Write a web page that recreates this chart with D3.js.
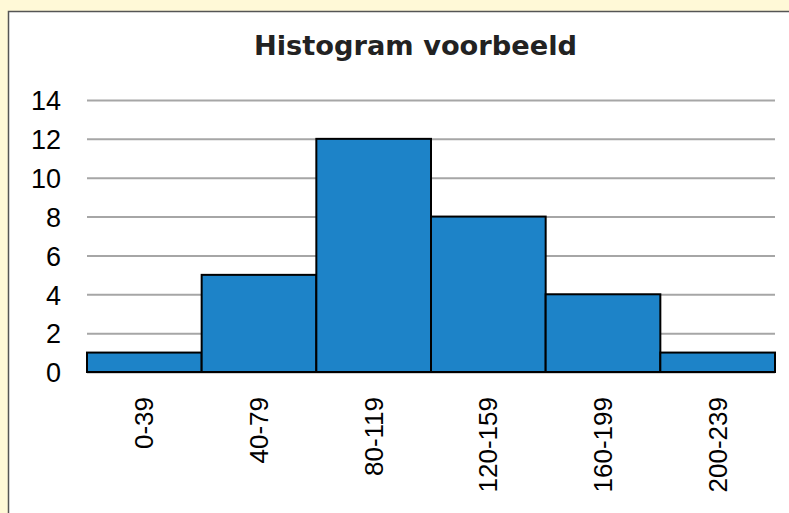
<!DOCTYPE html>
<html>
<head>
<meta charset="utf-8">
<script src="https://cdn.jsdelivr.net/npm/d3@7"></script>
<style>
  html, body { margin: 0; padding: 0; background: #FFF9D7; }
  svg { display: block; }
</style>
</head>
<body>
<svg id="chart" width="789" height="513"></svg>
<script>
// Class intervals and their counts
const categories = ["0-39", "40-79", "80-119", "120-159", "160-199", "200-239"];
const counts = [1, 5, 12, 8, 4, 1];
const yTicks = [0, 2, 4, 6, 8, 10, 12, 14];
const title = "Histogram voorbeeld";

const svg = d3.select("#chart");
const W = 789, H = 513;
const labelFont = "'Liberation Sans', Arial, sans-serif";

// Page background and white chart panel with its frame
svg.append("rect").attr("width", W).attr("height", H).attr("fill", "#FFF9D7");
svg.append("rect")
  .attr("x", 8.5).attr("y", 11.5)
  .attr("width", 840).attr("height", 540)
  .attr("fill", "#ffffff")
  .attr("stroke", "#555555")
  .attr("stroke-width", 1.5);

const plot = { left: 87, right: 775, top: 100, bottom: 372 };

const x = d3.scaleBand()
  .domain(categories)
  .range([plot.left, plot.right])
  .paddingInner(0).paddingOuter(0);

const y = d3.scaleLinear()
  .domain([0, 14])
  .range([plot.bottom, plot.top]);

// Horizontal gridlines and value labels
const yAxis = d3.axisLeft(y)
  .tickValues(yTicks)
  .tickSize(-(plot.right - plot.left))
  .tickPadding(26)
  .tickFormat(d3.format("d"));

const gy = svg.append("g")
  .attr("transform", `translate(${plot.left},0)`)
  .call(yAxis);
gy.select(".domain").remove();
gy.selectAll(".tick line")
  .attr("stroke", "#A6A6A6")
  .attr("stroke-width", 2);
gy.selectAll(".tick text")
  .attr("fill", "#000")
  .attr("font-family", labelFont)
  .attr("font-size", 27)
  .attr("dy", "0.36em");

// Bars
svg.append("g")
  .selectAll("rect")
  .data(categories.map((c, i) => ({ c, v: counts[i] })))
  .join("rect")
  .attr("x", d => x(d.c))
  .attr("y", d => y(d.v))
  .attr("width", x.bandwidth())
  .attr("height", d => y(0) - y(d.v))
  .attr("fill", "#1D83C8")
  .attr("stroke", "#000000")
  .attr("stroke-width", 2);

// Rotated category labels
const xAxis = d3.axisBottom(x).tickSize(0).tickPadding(0);
const gx = svg.append("g")
  .attr("transform", `translate(0,${plot.bottom})`)
  .call(xAxis);
gx.select(".domain").remove();
gx.selectAll(".tick text")
  .attr("fill", "#000")
  .attr("font-family", labelFont)
  .attr("font-size", 26)
  .attr("text-anchor", "end")
  .attr("dy", null)
  .attr("transform", "translate(9,25) rotate(-90)")
  .attr("x", 0).attr("y", 0);

// Title
svg.append("text")
  .attr("x", 415.5)
  .attr("y", 55)
  .attr("text-anchor", "middle")
  .attr("font-family", "'DejaVu Sans', sans-serif")
  .attr("font-weight", "bold")
  .attr("font-size", 26)
  .attr("fill", "#222222")
  .attr("textLength", 323)
  .attr("lengthAdjust", "spacingAndGlyphs")
  .text(title);
</script>
</body>
</html>
